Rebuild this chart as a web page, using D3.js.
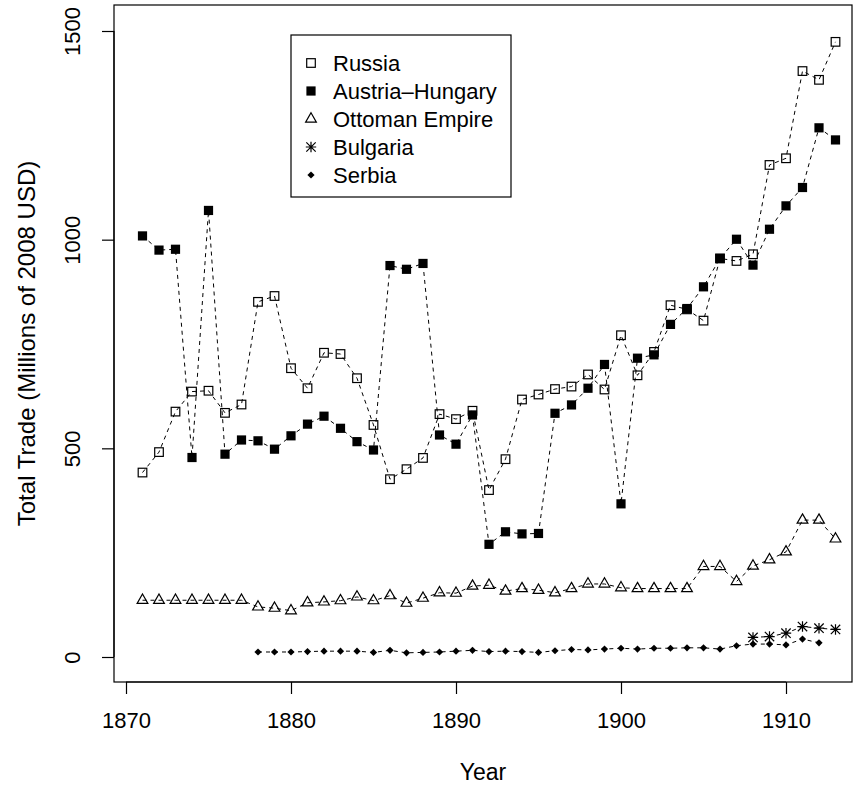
<!DOCTYPE html>
<html><head><meta charset="utf-8">
<script src="https://cdn.jsdelivr.net/npm/d3@7"></script>
<style>body{margin:0;background:#fff}svg{display:block}text{font-family:"Liberation Sans",Arial,Helvetica,sans-serif;fill:#000}</style>
</head><body><svg id="c" width="867" height="789"></svg>
<script>
const russiaYears = d3.range(1871, 1914);
const russia = [442,491,588,636,638,585,605,851,865,692,644,729,726,668,556,426,450,477,582,570,590,400,474,617,629,642,648,677,641,771,675,731,843,833,806,955,949,965,1179,1195,1404,1383,1474];
const austriaYears = d3.range(1871, 1914);
const austria = [1009,975,977,478,1070,486,520,518,498,530,558,577,548,516,496,938,929,943,532,510,580,270,300,295,296,584,604,644,701,367,716,724,797,835,887,955,1001,939,1025,1081,1125,1268,1239];
const ottomanYears = d3.range(1871, 1914);
const ottoman = [136,136,136,136,136,136,136,120,117,111,130,132,135,144,135,147,129,141,154,153,170,172,158,164,160,154,164,175,175,166,164,164,164,164,217,217,181,218,233,252,328,328,283];
const bulgariaYears = d3.range(1908, 1914);
const bulgaria = [47,49,57,73,69,66];
const serbiaYears = d3.range(1878, 1913);
const serbia = [12,12,12,13,14,14,14,11,16,10,11,12,14,16,13,14,13,11,15,18,17,19,21,19,21,21,22,22,19,27,31,31,29,43,34];
const xTicks = [1870,1880,1890,1900,1910];
const yTicks = [0,500,1000,1500];
const legendNames = ["Russia","Austria\u2013Hungary","Ottoman Empire","Bulgaria","Serbia"];

const svg = d3.select("#c");
const L = 114, R = 852, T = 5, B = 682;
const x = d3.scaleLinear().domain([1870, 1910]).range([126, 786]);
const y = d3.scaleLinear().domain([0, 1500]).range([657, 31]);
const FONT = '"Liberation Sans",Arial,sans-serif';

svg.append("rect").attr("x", L).attr("y", T).attr("width", R - L).attr("height", B - T)
  .attr("fill", "none").attr("stroke", "#000").attr("stroke-width", 1.2);

const xa = svg.append("g").attr("transform", `translate(0,${B})`)
  .call(d3.axisBottom(x).tickValues(xTicks).tickFormat(d3.format("d")).tickSize(12).tickPadding(18));
xa.select(".domain").attr("d", `M${x(1870)},0H${x(1910)}`).attr("stroke-width", 1.2);
xa.selectAll("line").attr("stroke-width", 1.2);
xa.selectAll("text").attr("font-size", 22).attr("font-family", FONT);

const ya = svg.append("g").attr("transform", `translate(${L},0)`)
  .call(d3.axisLeft(y).tickValues(yTicks).tickFormat(d3.format("d")).tickSize(12));
ya.select(".domain").attr("d", `M0,${y(0)}V${y(1500)}`).attr("stroke-width", 1.2);
ya.selectAll("line").attr("stroke-width", 1.2);
ya.selectAll(".tick text").attr("font-size", 22).attr("font-family", FONT)
  .attr("text-anchor", "middle").attr("dy", 0).attr("x", 0).attr("y", 0)
  .attr("transform", "translate(-34,0) rotate(-90)");

svg.append("text").attr("x", (L + R) / 2).attr("y", 780).attr("text-anchor", "middle")
  .attr("font-size", 23).text("Year");
svg.append("text").attr("transform", `translate(35,${(T + B) / 2}) rotate(-90)`).attr("text-anchor", "middle")
  .attr("font-size", 24).text("Total Trade (Millions of 2008 USD)");

const line = d3.line().x(d => x(d[0])).y(d => y(d[1]));
const series = [
  {yrs: russiaYears, vals: russia, sym: "sqOpen"},
  {yrs: austriaYears, vals: austria, sym: "sqFill"},
  {yrs: ottomanYears, vals: ottoman, sym: "tri"},
  {yrs: bulgariaYears, vals: bulgaria, sym: "ast"},
  {yrs: serbiaYears, vals: serbia, sym: "dia"}
];

function drawSym(g, sym, cx, cy) {
  if (sym === "sqOpen") {
    g.append("rect").attr("x", cx - 4.3).attr("y", cy - 4.3).attr("width", 8.6).attr("height", 8.6)
      .attr("fill", "none").attr("stroke", "#000").attr("stroke-width", 1.2);
  } else if (sym === "sqFill") {
    g.append("rect").attr("x", cx - 4.6).attr("y", cy - 4.6).attr("width", 9.2).attr("height", 9.2).attr("fill", "#000");
  } else if (sym === "tri") {
    const r = 6.2, h = r * Math.sqrt(3) / 2;
    g.append("path").attr("d", `M${cx},${cy - r}L${cx + h},${cy + r / 2}L${cx - h},${cy + r / 2}Z`)
      .attr("fill", "none").attr("stroke", "#000").attr("stroke-width", 1.2);
  } else if (sym === "ast") {
    const s = 5.2, d = s * 0.9;
    g.append("path").attr("d", `M${cx - s},${cy}H${cx + s}M${cx},${cy - s}V${cy + s}M${cx - d},${cy - d}L${cx + d},${cy + d}M${cx - d},${cy + d}L${cx + d},${cy - d}`)
      .attr("stroke", "#000").attr("stroke-width", 1.2).attr("fill", "none");
  } else if (sym === "dia") {
    const s = 3.6;
    g.append("path").attr("d", `M${cx},${cy - s}L${cx + s},${cy}L${cx},${cy + s}L${cx - s},${cy}Z`).attr("fill", "#000");
  }
}

series.forEach(s => {
  const pts = s.yrs.map((yr, i) => [yr, s.vals[i]]);
  svg.append("path").datum(pts).attr("d", line).attr("fill", "none").attr("stroke", "#000")
    .attr("stroke-width", 1).attr("stroke-dasharray", "4,4");
  const g = svg.append("g");
  pts.forEach(p => drawSym(g, s.sym, x(p[0]), y(p[1])));
});

const lg = svg.append("g");
lg.append("rect").attr("x", 291).attr("y", 35).attr("width", 220).attr("height", 162)
  .attr("fill", "#fff").attr("stroke", "#000").attr("stroke-width", 1.2);
legendNames.forEach((n, i) => {
  const cy = 63 + i * 28;
  drawSym(lg, series[i].sym, 311, cy);
  lg.append("text").attr("x", 333).attr("y", cy + 7.5).attr("font-size", 22).text(n);
});
</script></body></html>
